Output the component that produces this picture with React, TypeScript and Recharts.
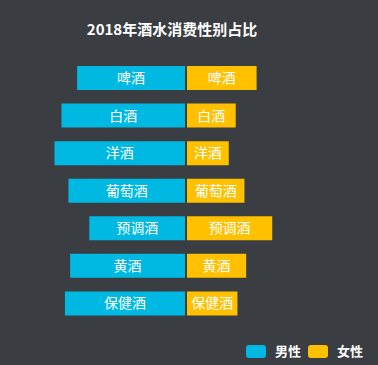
import React from "react";
import { BarChart, Bar, XAxis, YAxis, LabelList } from "recharts";

const categories = ["啤酒", "白酒", "洋酒", "葡萄酒", "预调酒", "黄酒", "保健酒"];
const maleValues = [62, 71, 75, 67, 55, 66, 69];
const femaleValues = [40, 28, 24, 33, 49, 34, 29];
const seriesNames = ["男性", "女性"];
const seriesColors = ["#00b9e2", "#ffc000"];

const data = categories.map((name, i) => ({ name, male: maleValues[i], female: femaleValues[i] }));

const BG = "#3a3d41";
const FONT = "'Noto Sans CJK SC', 'Noto Sans', sans-serif";

export default function App() {
  const chartTop = 59;
  const chartH = 263;
  return (
    <div style={{ position: "absolute", left: 0, top: 0, width: 378, height: 365, background: BG, fontFamily: FONT, overflow: "hidden" }}>
      <div style={{ position: "absolute", left: 0, width: 344, top: 19, textAlign: "center", color: "#fff", fontWeight: "bold", fontSize: 15, lineHeight: "20px" }}>
        2018年酒水消费性别占比
      </div>
      <div style={{ position: "absolute", left: 11, top: chartTop }}>
        <BarChart width={174} height={chartH} data={data} layout="vertical" margin={{ top: 0, right: 0, bottom: 0, left: 0 }}>
          <XAxis type="number" domain={[0, 100]} reversed hide />
          <YAxis type="category" dataKey="name" hide />
          <Bar dataKey="male" fill={seriesColors[0]} barSize={24} isAnimationActive={false}>
            <LabelList dataKey="name" position="center" fill="#fff" fontSize={14} fontFamily={FONT} />
          </Bar>
        </BarChart>
      </div>
      <div style={{ position: "absolute", left: 187, top: chartTop }}>
        <BarChart width={174} height={chartH} data={data} layout="vertical" margin={{ top: 0, right: 0, bottom: 0, left: 0 }}>
          <XAxis type="number" domain={[0, 100]} hide />
          <YAxis type="category" dataKey="name" hide />
          <Bar dataKey="female" fill={seriesColors[1]} barSize={24} isAnimationActive={false}>
            <LabelList dataKey="name" position="center" fill="#fff" fontSize={14} fontFamily={FONT} />
          </Bar>
        </BarChart>
      </div>
      <div style={{ position: "absolute", left: 246, top: 343, display: "flex", alignItems: "center", color: "#fff", fontWeight: "bold", fontSize: 13 }}>
        {seriesNames.map((n, i) => (
          <div key={n} style={{ display: "flex", alignItems: "center", marginRight: i === 0 ? 7 : 0 }}>
            <div style={{ width: 20, height: 13, borderRadius: 3, background: seriesColors[i], marginRight: 9 }} />
            <span style={{ lineHeight: "16px" }}>{n}</span>
          </div>
        ))}
      </div>
    </div>
  );
}
